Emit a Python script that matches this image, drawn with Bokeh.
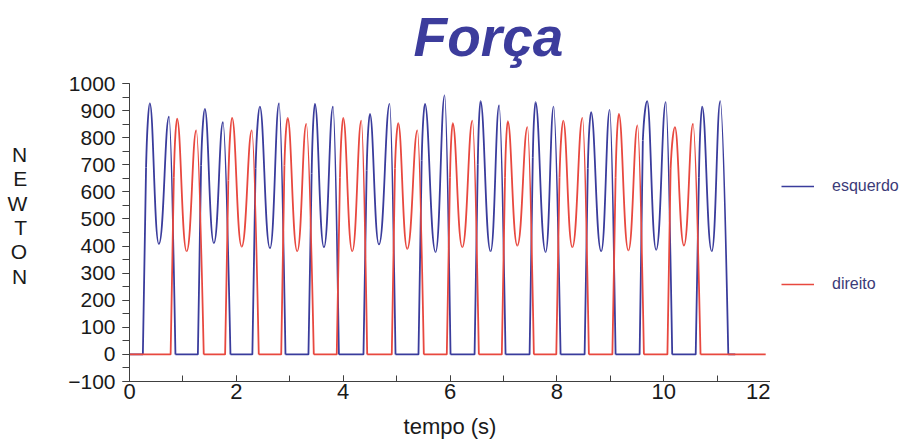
import numpy as np
from bokeh.plotting import figure
from bokeh.layouts import row
from bokeh.models import Range1d, SingleIntervalTicker, Legend, LegendItem, Label
from bokeh.embed import file_html
from bokeh.resources import INLINE

# ---------------- data (time in s, force in N) ----------------
# esquerdo (left foot) - one entry per ground contact
b_on    = [0.25, 1.28, 2.30, 3.35, 4.38, 5.41, 6.46, 7.49, 8.52, 9.55, 10.60]
b_sh_t  = [0.31, 1.34, 2.36, 3.41, 4.44, 5.47, 6.52, 7.55, 8.58, 9.61, 10.66]
b_sh_f  = [690, 697, 686, 668, 679, 716, 700, 728, 686, 790, 654]
b_p1_t  = [0.38, 1.41, 2.44, 3.47, 4.50, 5.53, 6.57, 7.60, 8.64, 9.69, 10.72]
b_p1_f  = [927, 906, 915, 925, 888, 925, 935, 931, 894, 935, 915]
b_dip_t = [0.55, 1.58, 2.63, 3.64, 4.67, 5.73, 6.76, 7.79, 8.83, 9.86, 10.90]
b_dip_f = [408, 411, 392, 396, 406, 378, 381, 378, 381, 386, 381]
b_p2_t  = [0.74, 1.75, 2.80, 3.81, 4.87, 5.90, 6.92, 7.94, 8.99, 10.04, 11.06]
b_p2_f  = [878, 857, 927, 915, 925, 956, 919, 915, 903, 931, 935]
b_off   = [0.86, 1.89, 2.92, 3.92, 4.98, 6.01, 7.04, 8.07, 9.10, 10.16, 11.21]
b_end   = 11.34

# direito (right foot)
r_on    = [0.77, 1.79, 2.84, 3.88, 4.91, 5.94, 6.97, 7.99, 9.04, 10.07]
r_sh_t  = [0.83, 1.85, 2.90, 3.94, 4.97, 6.00, 7.03, 8.05, 9.10, 10.13]
r_sh_f  = [654, 642, 697, 654, 686, 654, 654, 654, 654, 685]
r_p1_t  = [0.89, 1.92, 2.96, 4.00, 5.03, 6.05, 7.08, 8.12, 9.16, 10.21]
r_p1_f  = [870, 873, 873, 873, 854, 854, 861, 863, 888, 839]
r_dip_t = [1.07, 2.10, 3.14, 4.17, 5.20, 6.23, 7.26, 8.29, 9.34, 10.38]
r_dip_f = [381, 398, 381, 381, 390, 396, 402, 396, 384, 402]
r_p2_t  = [1.25, 2.29, 3.31, 4.34, 5.39, 6.42, 7.45, 8.48, 9.51, 10.55]
r_p2_f  = [827, 827, 851, 863, 827, 863, 839, 873, 845, 851]
r_off   = [1.39, 2.42, 3.45, 4.45, 5.51, 6.54, 7.57, 8.60, 9.63, 10.69]
r_end   = 11.91

series_names = ["esquerdo", "direito"]
y_axis_bounds = (-100, 1000)
x_ticks_interval = 2
y_ticks_interval = 100

BLUE = "#3a3c9c"
RED = "#e8483f"
FONT = "Liberation Sans"
LW = 1.8

# main plot: frame reaches the top of the canvas (room for the title); y axis drawn over its bounds
p = figure(width=770, height=446, output_backend="svg", toolbar_location=None, title=None,
           x_range=Range1d(0, 12), y_range=Range1d(-100, 1306.4),
           min_border_left=129, min_border_right=0, min_border_top=0, min_border_bottom=65)
p.outline_line_color = None
p.xgrid.visible = False
p.ygrid.visible = False
p.background_fill_color = "white"
p.border_fill_color = "white"


def draw(on, sh_t, sh_f, p1_t, p1_f, dip_t, dip_f, p2_t, p2_f, off, end, color):
    on, sh_t, sh_f = map(np.asarray, (on, sh_t, sh_f))
    p1_t, p1_f, dip_t, dip_f = map(np.asarray, (p1_t, p1_f, dip_t, dip_f))
    p2_t, p2_f, off = map(np.asarray, (p2_t, p2_f, off))
    # straight pieces: baseline + steep rise
    xs, ys = [], []
    prev = 0.0
    for i in range(len(on)):
        xs.append([prev, on[i], sh_t[i]])
        ys.append([0, 0, sh_f[i]])
        prev = off[i]
    xs.append([prev, end])
    ys.append([0, 0])
    p.multi_line(xs, ys, line_color=color, line_width=LW)
    # shoulder -> peak 1
    d = p1_t - sh_t
    p.bezier(x0=sh_t, y0=sh_f, x1=p1_t, y1=p1_f,
             cx0=sh_t + 0.25 * d, cy0=sh_f + 0.6 * (p1_f - sh_f),
             cx1=p1_t - 0.3 * d, cy1=p1_f, line_color=color, line_width=LW)
    # peak 1 -> dip
    d = dip_t - p1_t
    p.bezier(x0=p1_t, y0=p1_f, x1=dip_t, y1=dip_f,
             cx0=p1_t + 0.4 * d, cy0=p1_f, cx1=dip_t - 0.5 * d, cy1=dip_f,
             line_color=color, line_width=LW)
    # dip -> peak 2
    d = p2_t - dip_t
    p.bezier(x0=dip_t, y0=dip_f, x1=p2_t, y1=p2_f,
             cx0=dip_t + 0.5 * d, cy0=dip_f, cx1=p2_t - 0.4 * d, cy1=p2_f,
             line_color=color, line_width=LW)
    # peak 2 -> off
    d = off - p2_t
    p.bezier(x0=p2_t, y0=p2_f, x1=off, y1=0 * off,
             cx0=p2_t + 0.35 * d, cy0=p2_f, cx1=off - 0.1 * d, cy1=0.15 * p2_f,
             line_color=color, line_width=LW)


draw(b_on, b_sh_t, b_sh_f, b_p1_t, b_p1_f, b_dip_t, b_dip_f, b_p2_t, b_p2_f, b_off, b_end, BLUE)
draw(r_on, r_sh_t, r_sh_f, r_p1_t, r_p1_f, r_dip_t, r_dip_f, r_p2_t, r_p2_f, r_off, r_end, RED)

# axes
for ax in (p.xaxis[0], p.yaxis[0]):
    ax.axis_line_color = "#404040"
    ax.major_tick_line_color = "#404040"
    ax.minor_tick_line_color = "#404040"
    ax.major_label_text_font = FONT
    ax.major_label_text_color = "#1a1a1a"

xa = p.xaxis[0]
xa.ticker = SingleIntervalTicker(interval=x_ticks_interval, num_minor_ticks=2)
xa.major_tick_in = 6
xa.major_tick_out = 0
xa.minor_tick_in = 6
xa.minor_tick_out = 0
xa.major_label_text_font_size = "22px"
xa.major_label_standoff = 2
xa.axis_label = "tempo (s)"
xa.axis_label_text_font = FONT
xa.axis_label_text_font_size = "22px"
xa.axis_label_text_font_style = "normal"
xa.axis_label_text_color = "#1a1a1a"
xa.axis_label_standoff = 12

ya = p.yaxis[0]
ya.bounds = y_axis_bounds
ya.ticker = SingleIntervalTicker(interval=y_ticks_interval, num_minor_ticks=2)
ya.major_tick_in = 0
ya.major_tick_out = 7
ya.minor_tick_in = 0
ya.minor_tick_out = 7
ya.major_label_text_font_size = "21px"
ya.major_label_standoff = 7
# y-axis title, letters stacked (blank lines on top move it down to the reference position)
ya.axis_label = "\n\nN\nE\nW\nT\nO\nN"
ya.axis_label_orientation = "horizontal"
ya.axis_label_text_font = FONT
ya.axis_label_text_font_size = "21px"
ya.axis_label_text_font_style = "normal"
ya.axis_label_text_color = "#1a1a1a"
ya.axis_label_text_line_height = 1.06
ya.axis_label_text_align = "center"
ya.axis_label_standoff = 38

# chart title
p.add_layout(Label(x=6.72, y=1173, text="Força", text_font=FONT,
                   text_font_size="55px", text_font_style="bold italic",
                   text_color="#3c3c9c", text_align="center", text_baseline="alphabetic"))

# legend panel on the right (sample lines hold a single empty point so nothing shows in the panel)
q = figure(width=135, height=446, output_backend="svg", toolbar_location=None, title=None,
           x_range=Range1d(0, 1), y_range=Range1d(0, 1),
           min_border_left=0, min_border_right=0, min_border_top=0, min_border_bottom=0)
q.axis.visible = False
q.xgrid.visible = False
q.ygrid.visible = False
q.outline_line_color = None
lb = q.line(x=[float("nan")], y=[float("nan")], line_color=BLUE, line_width=1.4)
lr = q.line(x=[float("nan")], y=[float("nan")], line_color=RED, line_width=1.4)
legend = Legend(items=[LegendItem(label=series_names[0], renderers=[lb]),
                       LegendItem(label=series_names[1], renderers=[lr])],
                location=(11, 87), orientation="vertical", spacing=78,
                glyph_width=33, glyph_height=20, label_height=20, label_standoff=18,
                padding=0, margin=0, border_line_alpha=0, background_fill_alpha=0,
                label_text_font=FONT, label_text_font_size="16px",
                label_text_color="#3b3b78")
q.add_layout(legend)

layout = row(p, q, spacing=0)
open("out.html", "w").write(file_html(layout, INLINE))
